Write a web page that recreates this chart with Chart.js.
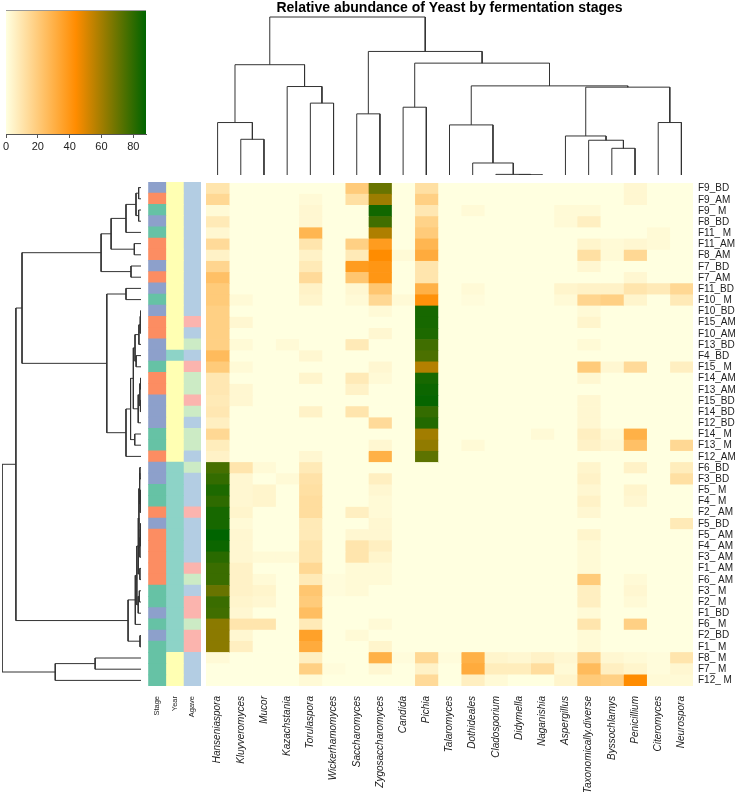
<!DOCTYPE html>
<html>
<head>
<meta charset="utf-8">
<script src="https://cdn.jsdelivr.net/npm/chart.js@4.4.1/dist/chart.umd.min.js"></script>
<style>
  html, body { margin: 0; padding: 0; background: #fff; }
  #page { position: relative; width: 735px; height: 792px; overflow: hidden; }
  canvas { position: absolute; }
</style>
</head>
<body>
<div id="page">
  <canvas id="keyChart" width="160" height="165" style="left:0;top:0"></canvas>
  <canvas id="colDendro" width="487" height="175" style="left:206px;top:0"></canvas>
  <canvas id="rowDendro" width="139" height="504" style="left:2px;top:182px"></canvas>
  <canvas id="annotChart" width="66" height="620" style="left:147px;top:172px"></canvas>
  <canvas id="heatChart" width="529" height="620" style="left:206px;top:172px"></canvas>
</div>
<script>
// ---- data ----
const chartTitle = "Relative abundance of Yeast by fermentation stages";

const genera = ["Hanseniaspora", "Kluyveromyces", "Mucor", "Kazachstania", "Torulaspora",
  "Wickerhamomyces", "Saccharomyces", "Zygosaccharomyces", "Candida", "Pichia", "Talaromyces",
  "Dothideales", "Cladosporium", "Didymella", "Naganishia", "Aspergillus", "Taxonomically.diverse",
  "Byssochlamys", "Penicillium", "Citeromyces", "Neurospora"];

const rowLabels = ["F9_BD", "F9_AM", "F9_ M", "F8_BD", "F11_ M", "F11_AM", "F8_AM", "F7_BD", "F7_AM",
  "F11_BD", "F10_ M", "F10_BD", "F15_AM", "F10_AM", "F13_BD", "F4_BD", "F15_ M", "F14_AM", "F13_AM",
  "F15_BD", "F14_BD", "F12_BD", "F14_ M", "F13_ M", "F12_AM", "F6_BD", "F3_BD", "F5_ M", "F4_ M",
  "F2_ AM", "F5_BD", "F5_ AM", "F4_ AM", "F3_ AM", "F1_ AM", "F6_ AM", "F3_ M", "F2_ M", "F1_BD",
  "F6_ M", "F2_BD", "F1_ M", "F8_ M", "F7_ M", "F12_ M"];

// relative abundance (%), one row per sample, columns in the order of genera
const abundance = [
  [10,0,0,0,0,0,20,70,0,12,0,0,0,0,0,0,0,0,3,0,0],
  [15,0,0,0,2,0,12,61,0,18,0,0,0,0,0,0,0,0,3,0,0],
  [2,0,0,0,3,0,0,85,0,9,0,2,0,0,0,2,2,0,0,0,0],
  [8,0,0,0,3,0,0,77,0,17,0,0,0,0,0,2,6,0,0,0,0],
  [3,0,0,0,28,0,0,58,0,20,0,0,0,0,0,0,0,0,0,2,0],
  [14,0,0,0,10,0,18,38,0,28,0,0,0,0,0,0,4,2,3,2,0],
  [5,0,0,0,5,0,8,44,2,32,0,0,0,0,0,0,12,2,15,0,0],
  [16,0,0,0,8,0,38,40,0,10,0,0,0,0,0,0,3,0,0,0,0],
  [24,0,0,0,14,0,22,40,0,10,0,0,0,0,0,0,0,0,3,0,0],
  [20,0,0,0,5,0,3,22,0,30,0,2,0,0,0,4,5,5,10,8,15],
  [20,2,0,0,4,0,2,15,2,42,0,1,0,0,0,2,16,18,4,0,8],
  [18,0,0,0,0,0,0,2,0,84,0,0,0,0,0,0,2,0,0,0,0],
  [18,3,0,0,0,0,0,0,0,84,0,0,0,0,0,0,4,0,0,0,0],
  [18,0,0,0,0,0,0,3,0,83,0,0,0,0,0,0,0,0,0,0,0],
  [18,2,0,2,0,0,8,0,0,77,0,0,0,0,0,0,2,0,0,0,0],
  [26,0,0,0,3,0,0,0,0,75,0,0,0,0,0,0,0,0,0,0,0],
  [20,2,0,0,0,0,0,3,0,57,0,0,0,0,0,0,20,3,14,0,6],
  [9,0,0,0,4,0,8,2,0,84,0,0,0,0,0,0,3,0,0,0,0],
  [9,3,0,0,0,0,5,0,0,86,0,0,0,0,0,0,0,0,0,0,0],
  [8,3,0,0,0,0,0,0,0,87,0,0,0,0,0,0,3,0,0,0,0],
  [9,0,0,0,5,0,10,0,0,79,0,0,0,0,0,0,3,0,0,0,0],
  [6,0,0,0,0,0,0,14,0,82,0,0,0,0,0,0,3,0,0,0,0],
  [15,0,0,0,0,0,0,0,0,60,0,0,0,0,2,0,6,2,30,0,0],
  [7,0,0,0,0,0,0,3,0,63,0,2,0,0,0,0,5,3,24,0,15],
  [5,0,0,0,3,0,0,30,0,72,0,0,0,0,0,0,0,0,0,0,0],
  [76,10,2,0,8,0,0,0,0,0,0,0,0,0,0,0,4,0,5,0,7],
  [79,3,0,2,11,0,0,6,0,0,0,0,0,0,0,0,5,0,0,0,12],
  [83,3,4,0,12,0,0,3,0,0,0,0,0,0,0,0,3,0,4,0,0],
  [80,3,4,0,13,0,0,2,0,0,0,0,0,0,0,0,5,0,3,0,0],
  [84,4,0,0,13,0,6,2,0,0,0,0,0,0,0,0,3,0,0,0,0],
  [84,2,0,0,8,0,0,3,0,0,0,0,0,0,0,0,0,0,0,0,8],
  [88,3,0,0,8,0,3,3,0,0,0,0,0,0,0,0,4,0,0,0,0],
  [86,3,0,0,10,0,10,6,0,0,0,0,0,0,0,0,2,0,0,0,0],
  [81,3,2,2,10,0,10,4,0,0,0,0,0,0,0,0,2,0,0,0,0],
  [78,5,0,0,15,0,2,2,0,0,0,0,0,0,0,0,2,0,0,0,0],
  [78,5,2,0,8,1,2,2,0,0,0,0,0,0,0,0,20,0,2,0,0],
  [70,5,4,0,22,1,2,0,0,0,0,0,0,0,0,0,6,0,3,0,0],
  [78,4,3,0,20,0,0,0,0,0,0,0,0,0,0,0,6,0,2,0,0],
  [77,3,0,0,25,0,0,0,0,0,0,0,0,0,0,0,2,0,0,0,0],
  [64,10,10,0,8,0,0,2,0,0,0,0,0,0,0,0,10,0,18,0,0],
  [64,3,0,0,36,0,2,0,0,0,0,0,0,0,0,0,2,0,0,0,0],
  [64,6,0,0,32,0,0,4,0,0,0,0,0,0,0,0,2,0,0,0,0],
  [2,0,0,0,6,0,0,30,1,15,1,30,4,3,5,3,16,3,2,1,10],
  [0,0,0,0,18,1,0,3,0,5,0,32,7,7,13,2,26,6,4,1,3],
  [0,0,0,0,2,0,0,0,0,14,0,6,2,0,0,4,20,18,44,2,2]
];

// side annotations
const annotNames = ["Stage", "Year", "Agave"];
const stageColors = { BD: "#8DA0CB", AM: "#FC8D62", M: "#66C2A5" };
const yearByFerm = [1,1,1,1,1,1,2,2,2,2,2,2,2,2,2];           // F1..F15
const yearColors = { 1: "#8DD3C7", 2: "#FFFFB3" };
const agaveByFerm = ["B","B","A","A","A","C","A","A","A","A","A","A","C","C","B"]; // F1..F15
const agaveColors = { A: "#B3CDE3", B: "#FBB4AE", C: "#CCEBC5" };

// colour key
const keyMax = 88;
const keyTicks = [0, 20, 40, 60, 80];
const keyColors = ["#FFFFE0", "#FF8C00", "#006400"];

// hclust-style merges: negative = leaf (1-based position), positive = earlier merge, then height
const colMerges = [
  [-2, -3, 22.6], [-1, 1, 33.2], [-5, -6, 45.5], [-4, 3, 56], [2, 4, 69.8],
  [-7, -8, 38.7], [-9, -10, 42.9], [-14, -15, 0.2], [-13, 8, 0.4], [-12, 9, 7.6],
  [-11, 10, 31.7], [-18, -19, 16.9], [-17, 12, 22], [-16, 13, 24.7], [-20, -21, 33.2],
  [14, 15, 55.6], [11, 16, 56.4], [7, 17, 70.8], [6, 18, 78.2], [5, 19, 100]
];
const rowMerges = [
  [-1, -2, 1.7], [-3, -4, 1.7], [1, 2, 3.6], [3, -5, 10.8], [-6, -7, 4.8],
  [4, 5, 21.5], [-8, -9, 7.2], [6, 7, 28.7], [-10, -11, 10.8], [-12, -13, 0.3],
  [10, -14, 0.6], [11, -15, 1.5], [-16, -17, 3.5], [12, 13, 4.3], [-18, -19, 0.3],
  [-20, -21, 0.4], [15, 16, 0.8], [17, -22, 2], [14, 18, 5.5], [-23, -24, 4.5],
  [19, 20, 7.5], [21, -25, 10.8], [9, 22, 24.6], [8, 23, 85.6], [-26, -27, 0.8],
  [-28, -29, 0.4], [26, -30, 0.6], [25, 27, 1], [-31, -32, 0.3], [29, -33, 0.5],
  [30, -34, 0.8], [28, 31, 1.5], [-35, -36, 0.8], [32, 33, 2], [-37, -38, 1.2],
  [35, -39, 2], [34, 36, 3], [37, -40, 4.1], [-41, -42, 0.7], [38, 39, 9.3],
  [24, 40, 90], [-43, -44, 33], [42, -45, 61.7], [41, 43, 100]
];

// ---- helpers ----
Chart.defaults.font.family = "'Liberation Sans', Arial, sans-serif";
Chart.defaults.color = "#222";
const lineColor = "#333";

function hexRgb(h) {
  return [1, 3, 5].map(i => parseInt(h.slice(i, i + 2), 16));
}

function heatColor(v) {
  const t = Math.max(0, Math.min(1, v / keyMax)) * (keyColors.length - 1);
  const i = Math.min(Math.floor(t), keyColors.length - 2);
  const f = t - i;
  const a = hexRgb(keyColors[i]), b = hexRgb(keyColors[i + 1]);
  const c = a.map((x, k) => Math.round(x + (b[k] - x) * f));
  return `rgb(${c[0]},${c[1]},${c[2]})`;
}

function fermNo(label) { return parseInt(label.slice(1), 10); }
function stageOf(label) { return label.split("_")[1].trim(); }

// walk merges -> one polyline per merge, in (leaf position, height)
function treeLines(merges) {
  const nodes = [];
  const pos = id => id < 0 ? { c: -id - 1, h: 0 } : nodes[id - 1];
  const lines = [];
  merges.forEach(([a, b, h]) => {
    const l = pos(a), r = pos(b);
    lines.push([[l.c, l.h], [l.c, h], [r.c, h], [r.c, r.h]]);
    nodes.push({ c: (l.c + r.c) / 2, h: h });
  });
  return lines;
}

const noPlugins = { legend: { display: false }, tooltip: { enabled: false } };

// ---- colour key ----
const keyGradient = {
  id: "keyGradient",
  beforeDatasetsDraw(chart) {
    const { ctx, chartArea: a, scales: { x } } = chart;
    const g = ctx.createLinearGradient(x.getPixelForValue(0), 0, x.getPixelForValue(keyMax), 0);
    keyColors.forEach((c, i) => g.addColorStop(i / (keyColors.length - 1), c));
    ctx.save();
    ctx.fillStyle = g;
    ctx.fillRect(a.left, a.top, a.right - a.left, a.bottom - a.top);
    ctx.strokeStyle = "#999";
    ctx.beginPath();
    ctx.moveTo(a.left, a.top + 0.5);
    ctx.lineTo(a.right, a.top + 0.5);
    ctx.stroke();
    ctx.restore();
  }
};

new Chart(document.getElementById("keyChart"), {
  type: "scatter",
  data: { datasets: [] },
  plugins: [keyGradient],
  options: {
    responsive: false, animation: false,
    layout: { padding: { left: 6, top: 10, right: 14, bottom: 0 } },
    plugins: noPlugins,
    scales: {
      x: {
        type: "linear", min: 0, max: keyMax,
        afterBuildTicks: s => { s.ticks = keyTicks.map(v => ({ value: v })); },
        afterFit: s => { s.height = 31; },
        grid: { display: true, drawOnChartArea: false, drawTicks: true, tickLength: 4, color: "#555" },
        border: { display: true, color: "#555" },
        ticks: { font: { size: 11 }, padding: 2, maxRotation: 0 }
      },
      y: { display: false, min: 0, max: 1 }
    }
  }
});

// ---- column dendrogram (with title) ----
new Chart(document.getElementById("colDendro"), {
  type: "scatter",
  data: {
    datasets: treeLines(colMerges).map(pts => ({
      data: pts.map(([c, h]) => ({ x: c, y: h })),
      showLine: true, borderColor: lineColor, borderWidth: 1, pointRadius: 0, clip: false
    }))
  },
  options: {
    responsive: false, animation: false,
    plugins: {
      ...noPlugins,
      title: {
        display: true, text: chartTitle, color: "#000",
        font: { size: 14, weight: "bold" }, padding: { top: 0, bottom: 0.2 }
      }
    },
    scales: {
      x: { display: false, type: "linear", min: -0.5, max: genera.length - 0.5 },
      y: { display: false, type: "linear", min: 0, max: 100 }
    }
  }
});

// ---- row dendrogram ----
new Chart(document.getElementById("rowDendro"), {
  type: "scatter",
  data: {
    datasets: treeLines(rowMerges).map(pts => ({
      data: pts.map(([c, h]) => ({ x: h, y: c })),
      showLine: true, borderColor: lineColor, borderWidth: 1, pointRadius: 0, clip: false
    }))
  },
  options: {
    responsive: false, animation: false,
    plugins: noPlugins,
    scales: {
      x: { display: false, type: "linear", min: 0, max: 100, reverse: true },
      y: { display: false, type: "linear", min: -0.5, max: rowLabels.length - 0.5, reverse: true }
    }
  }
});

// ---- side annotation bars ----
const annotFill = [
  rowLabels.map(l => stageColors[stageOf(l)]),
  rowLabels.map(l => yearColors[yearByFerm[fermNo(l) - 1]]),
  rowLabels.map(l => agaveColors[agaveByFerm[fermNo(l) - 1]])
];

new Chart(document.getElementById("annotChart"), {
  type: "bar",
  data: {
    labels: rowLabels,
    datasets: annotNames.map((n, k) => ({
      label: n, data: rowLabels.map(() => 1), backgroundColor: annotFill[k],
      borderWidth: 0, barPercentage: 1, categoryPercentage: 1
    }))
  },
  options: {
    indexAxis: "y", responsive: false, animation: false,
    layout: { padding: { top: 10, right: 12 } },
    plugins: noPlugins,
    scales: {
      x: {
        type: "linear", stacked: true, min: 0, max: annotNames.length,
        afterBuildTicks: s => { s.ticks = annotNames.map((n, i) => ({ value: i + 0.5 })); },
        afterFit: s => { s.height = 106; },
        grid: { display: false, drawTicks: false }, border: { display: false },
        ticks: {
          autoSkip: false, minRotation: 90, maxRotation: 90, padding: 10,
          font: { size: 7.5 }, callback: (v, i) => annotNames[i]
        }
      },
      y: { display: false, stacked: true }
    }
  }
});

// ---- heatmap ----
new Chart(document.getElementById("heatChart"), {
  type: "bar",
  data: {
    labels: rowLabels,
    datasets: genera.map((g, j) => ({
      label: g, data: rowLabels.map(() => 1),
      backgroundColor: abundance.map(row => heatColor(row[j])),
      borderWidth: 0, barPercentage: 1, categoryPercentage: 1
    }))
  },
  options: {
    indexAxis: "y", responsive: false, animation: false,
    layout: { padding: { top: 10 } },
    plugins: noPlugins,
    scales: {
      x: {
        type: "linear", stacked: true, min: 0, max: genera.length,
        afterBuildTicks: s => { s.ticks = genera.map((g, i) => ({ value: i + 0.5 })); },
        afterFit: s => { s.height = 106; },
        grid: { display: false, drawTicks: false }, border: { display: false },
        ticks: {
          autoSkip: false, minRotation: 90, maxRotation: 90, padding: 10,
          font: { size: 10, style: "italic" }, callback: (v, i) => genera[i]
        }
      },
      y: {
        type: "category", position: "right", stacked: true,
        afterFit: s => { s.width = 42; },
        grid: { display: false, drawTicks: false }, border: { display: false },
        ticks: { autoSkip: false, padding: 5, font: { size: 10 } }
      }
    }
  }
});
</script>
</body>
</html>
